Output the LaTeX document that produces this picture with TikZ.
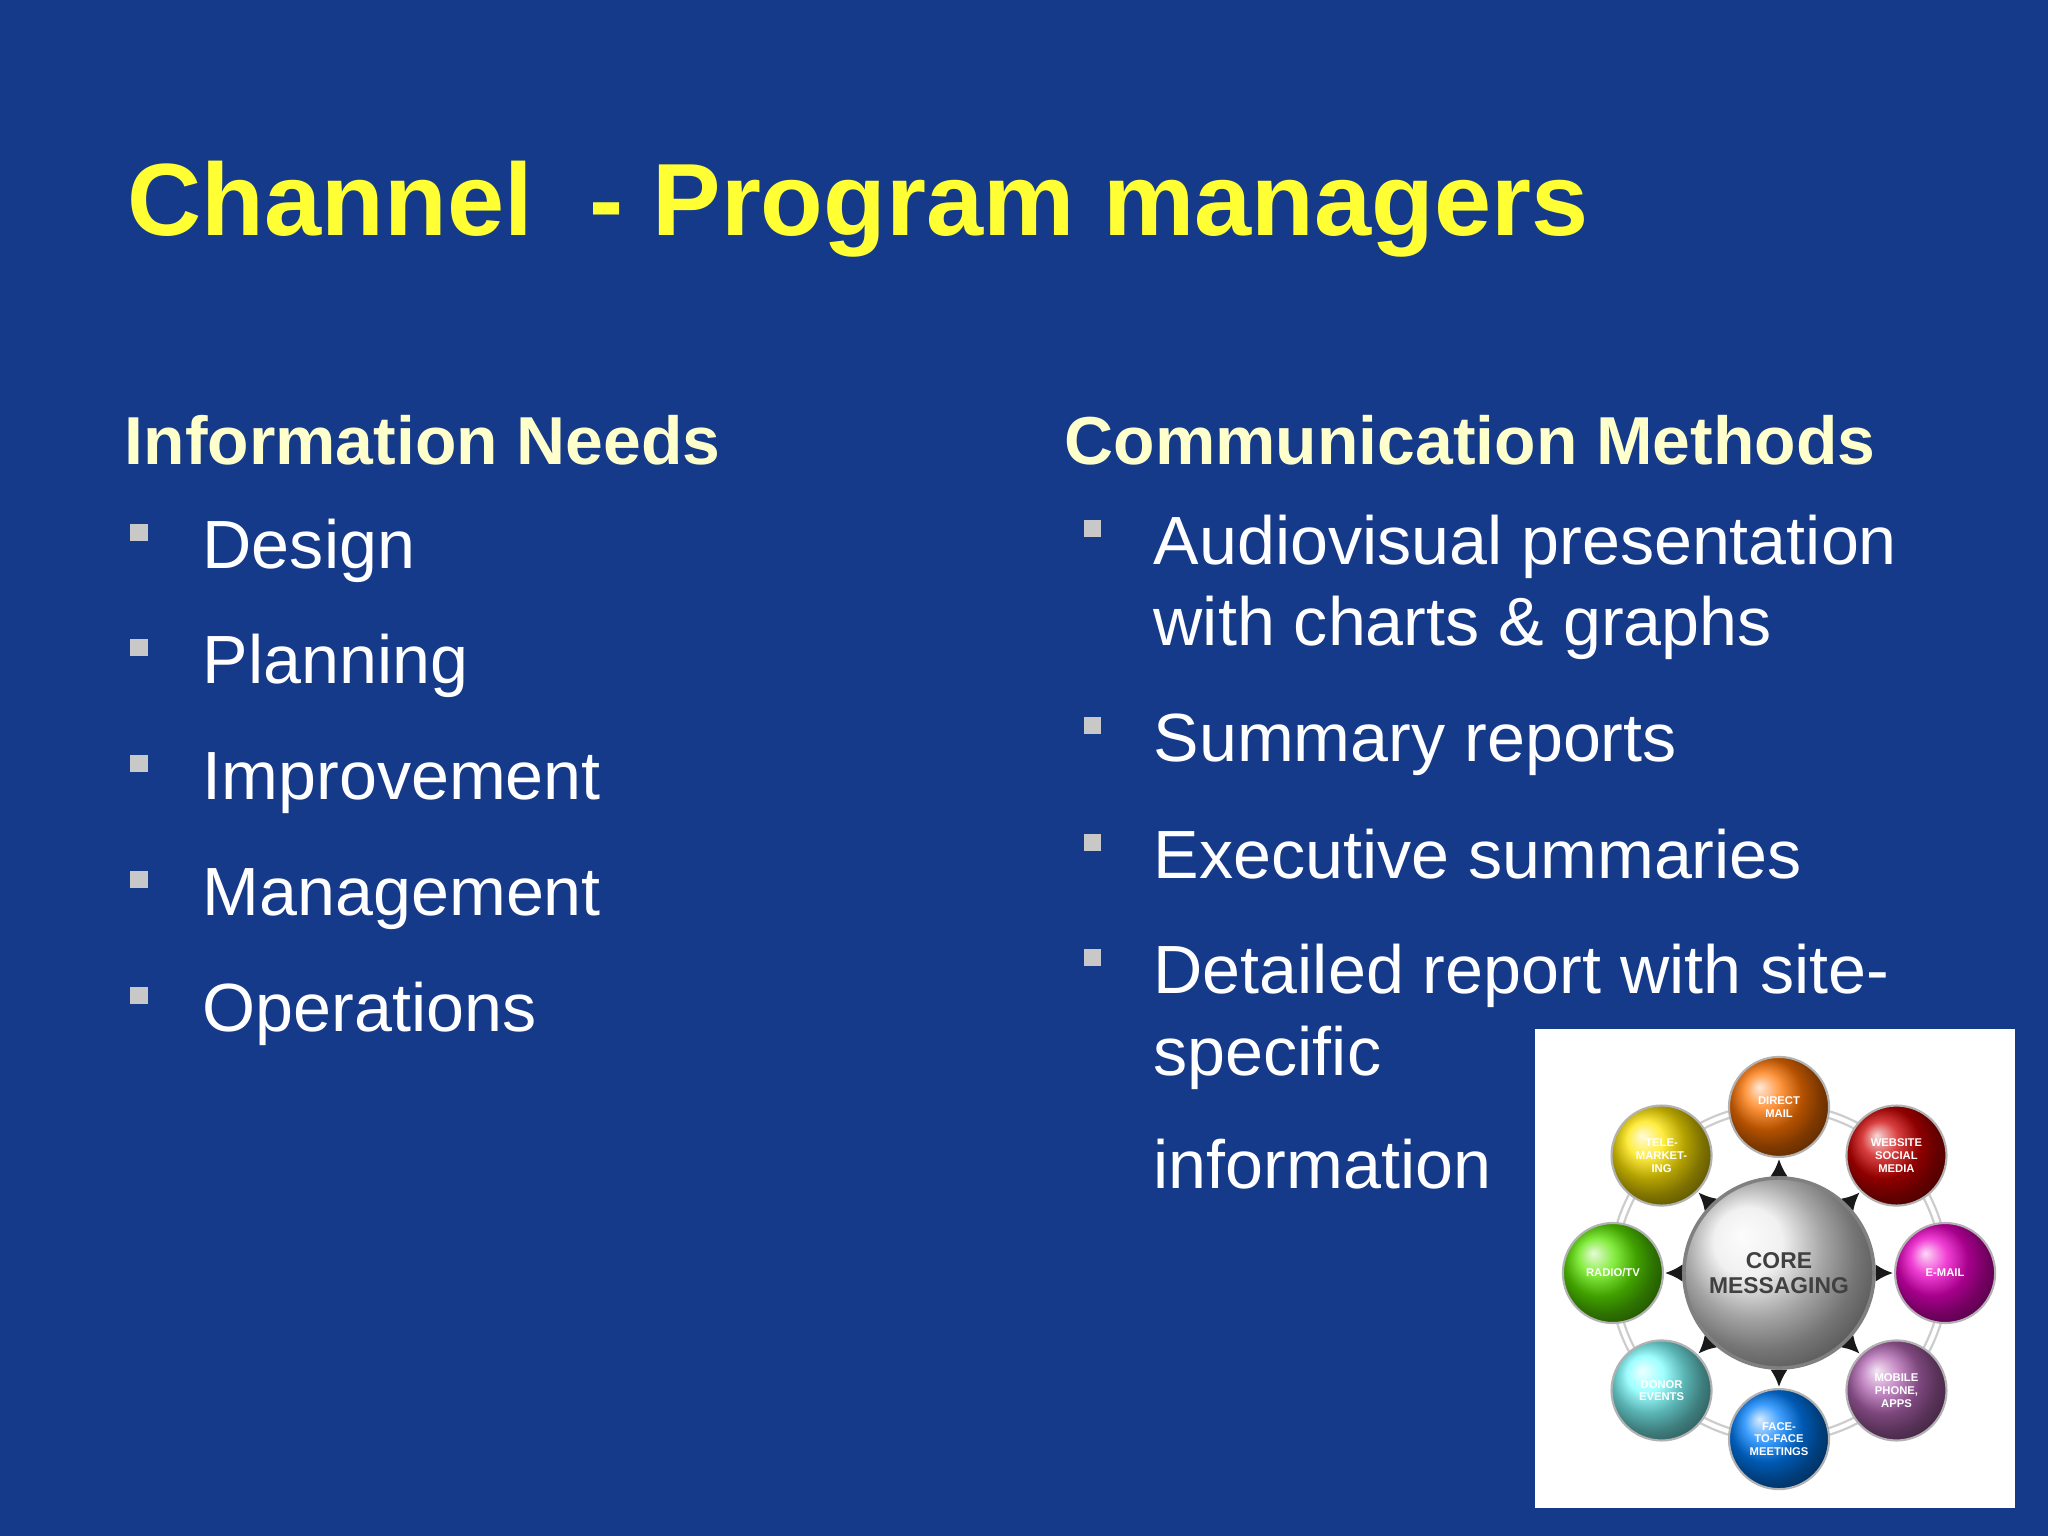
\documentclass[tikz,border=0pt]{standalone}
\usepackage{fontspec}
\setmainfont{Liberation Sans}
\usetikzlibrary{arrows.meta,calc}
\definecolor{bg}{HTML}{163A8A}
\definecolor{ttl}{HTML}{FFFF33}
\definecolor{hd}{HTML}{FFFFCC}
\definecolor{bul}{HTML}{C8C8C8}
\tikzset{
 ttlstyle/.style={anchor=base west,inner sep=0,text=ttl,font=\fontsize{29.2}{34}\selectfont\bfseries},
 hdstyle/.style={anchor=base west,inner sep=0,text=hd,font=\fontsize{19.3}{23}\selectfont\bfseries},
 itemstyle/.style={anchor=base west,inner sep=0,text=white,font=\fontsize{19.4}{24}\selectfont},
 bulstyle/.style={fill=bul,minimum size=0.17cm,inner sep=0},
 sat/.style={circle,minimum size=1.0cm,inner sep=0,draw=gray!60,line width=0.6pt,text=white,font=\fontsize{3.2}{3.6}\selectfont\bfseries,align=center},
}
\begin{document}
\begin{tikzpicture}[x=0.01cm,y=-0.01cm]
\fill[bg] (0,0) rectangle (2048,1536);
\useasboundingbox (0,0) rectangle (2048,1536);
\node[ttlstyle] (title) at (127,235) {Channel\ \ - Program managers};
\node[hdstyle] (h1) at (124,464) {Information Needs};
\node[hdstyle] (h2) at (1064,464) {Communication Methods};
\foreach \t/\y [count=\i] in {Design/568,Planning/683,Improvement/799,Management/915,Operations/1031}{
  \node[bulstyle] (lb\i) at (139,\y-36) {};
  \node[itemstyle] (li\i) at (202,\y) {\t};
}
\foreach \y [count=\i] in {564,761,878,993}{
  \node[bulstyle] (rb\i) at (1092,\y-36) {};
}
\node[itemstyle] (r1) at (1153,564) {Audiovisual presentation};
\node[itemstyle] (r1b) at (1153,645) {with charts \& graphs};
\node[itemstyle] (r2) at (1153,761) {Summary reports};
\node[itemstyle] (r3) at (1153,878) {Executive summaries};
\node[itemstyle] (r4) at (1153,993) {Detailed report with site-};
\node[itemstyle] (r4b) at (1153,1075) {specific};
\node[itemstyle] (r4c) at (1153,1188) {information};
% image
\fill[white] (1535,1029) rectangle (2015,1508);
\coordinate (c) at (1779,1273);
\draw[gray!40,line width=2.5pt] (c) circle [radius=1.66cm];
\draw[white,line width=1.2pt] (c) circle [radius=1.66cm];
\foreach \a/\col/\txt [count=\i] in {
  90/orange!90!red/{DIRECT\\MAIL},
  45/red!80!black/{WEBSITE\\SOCIAL\\MEDIA},
  0/magenta!70!purple/{E-MAIL},
  -45/violet!60!white/{MOBILE\\PHONE,\\APPS},
  -90/cyan!50!blue/{FACE-\\TO-FACE\\MEETINGS},
  -135/cyan!50!white/{DONOR\\EVENTS},
  180/green!60!yellow!90!black/{RADIO/TV},
  135/yellow!80!orange/{TELE-\\MARKET-\\ING}}{
  \draw[-{Latex[length=5pt,width=5pt]},gray!20!black,line width=0.8pt] ($(c)+(\a:0.95cm)$) -- ($(c)+(\a:1.14cm)$);
  \node[sat,ball color=\col,shading=ball] (s\i) at ($(c)+(\a:1.66cm)$) {\txt};
}
\node[circle,minimum size=1.9cm,inner sep=0,draw=gray,line width=1pt,ball color=gray!15,shading=ball,
  text=black!75,font=\fontsize{6.5}{7}\selectfont\bfseries,align=center] (core) at (c) {CORE\\MESSAGING};
\end{tikzpicture}
\end{document}
